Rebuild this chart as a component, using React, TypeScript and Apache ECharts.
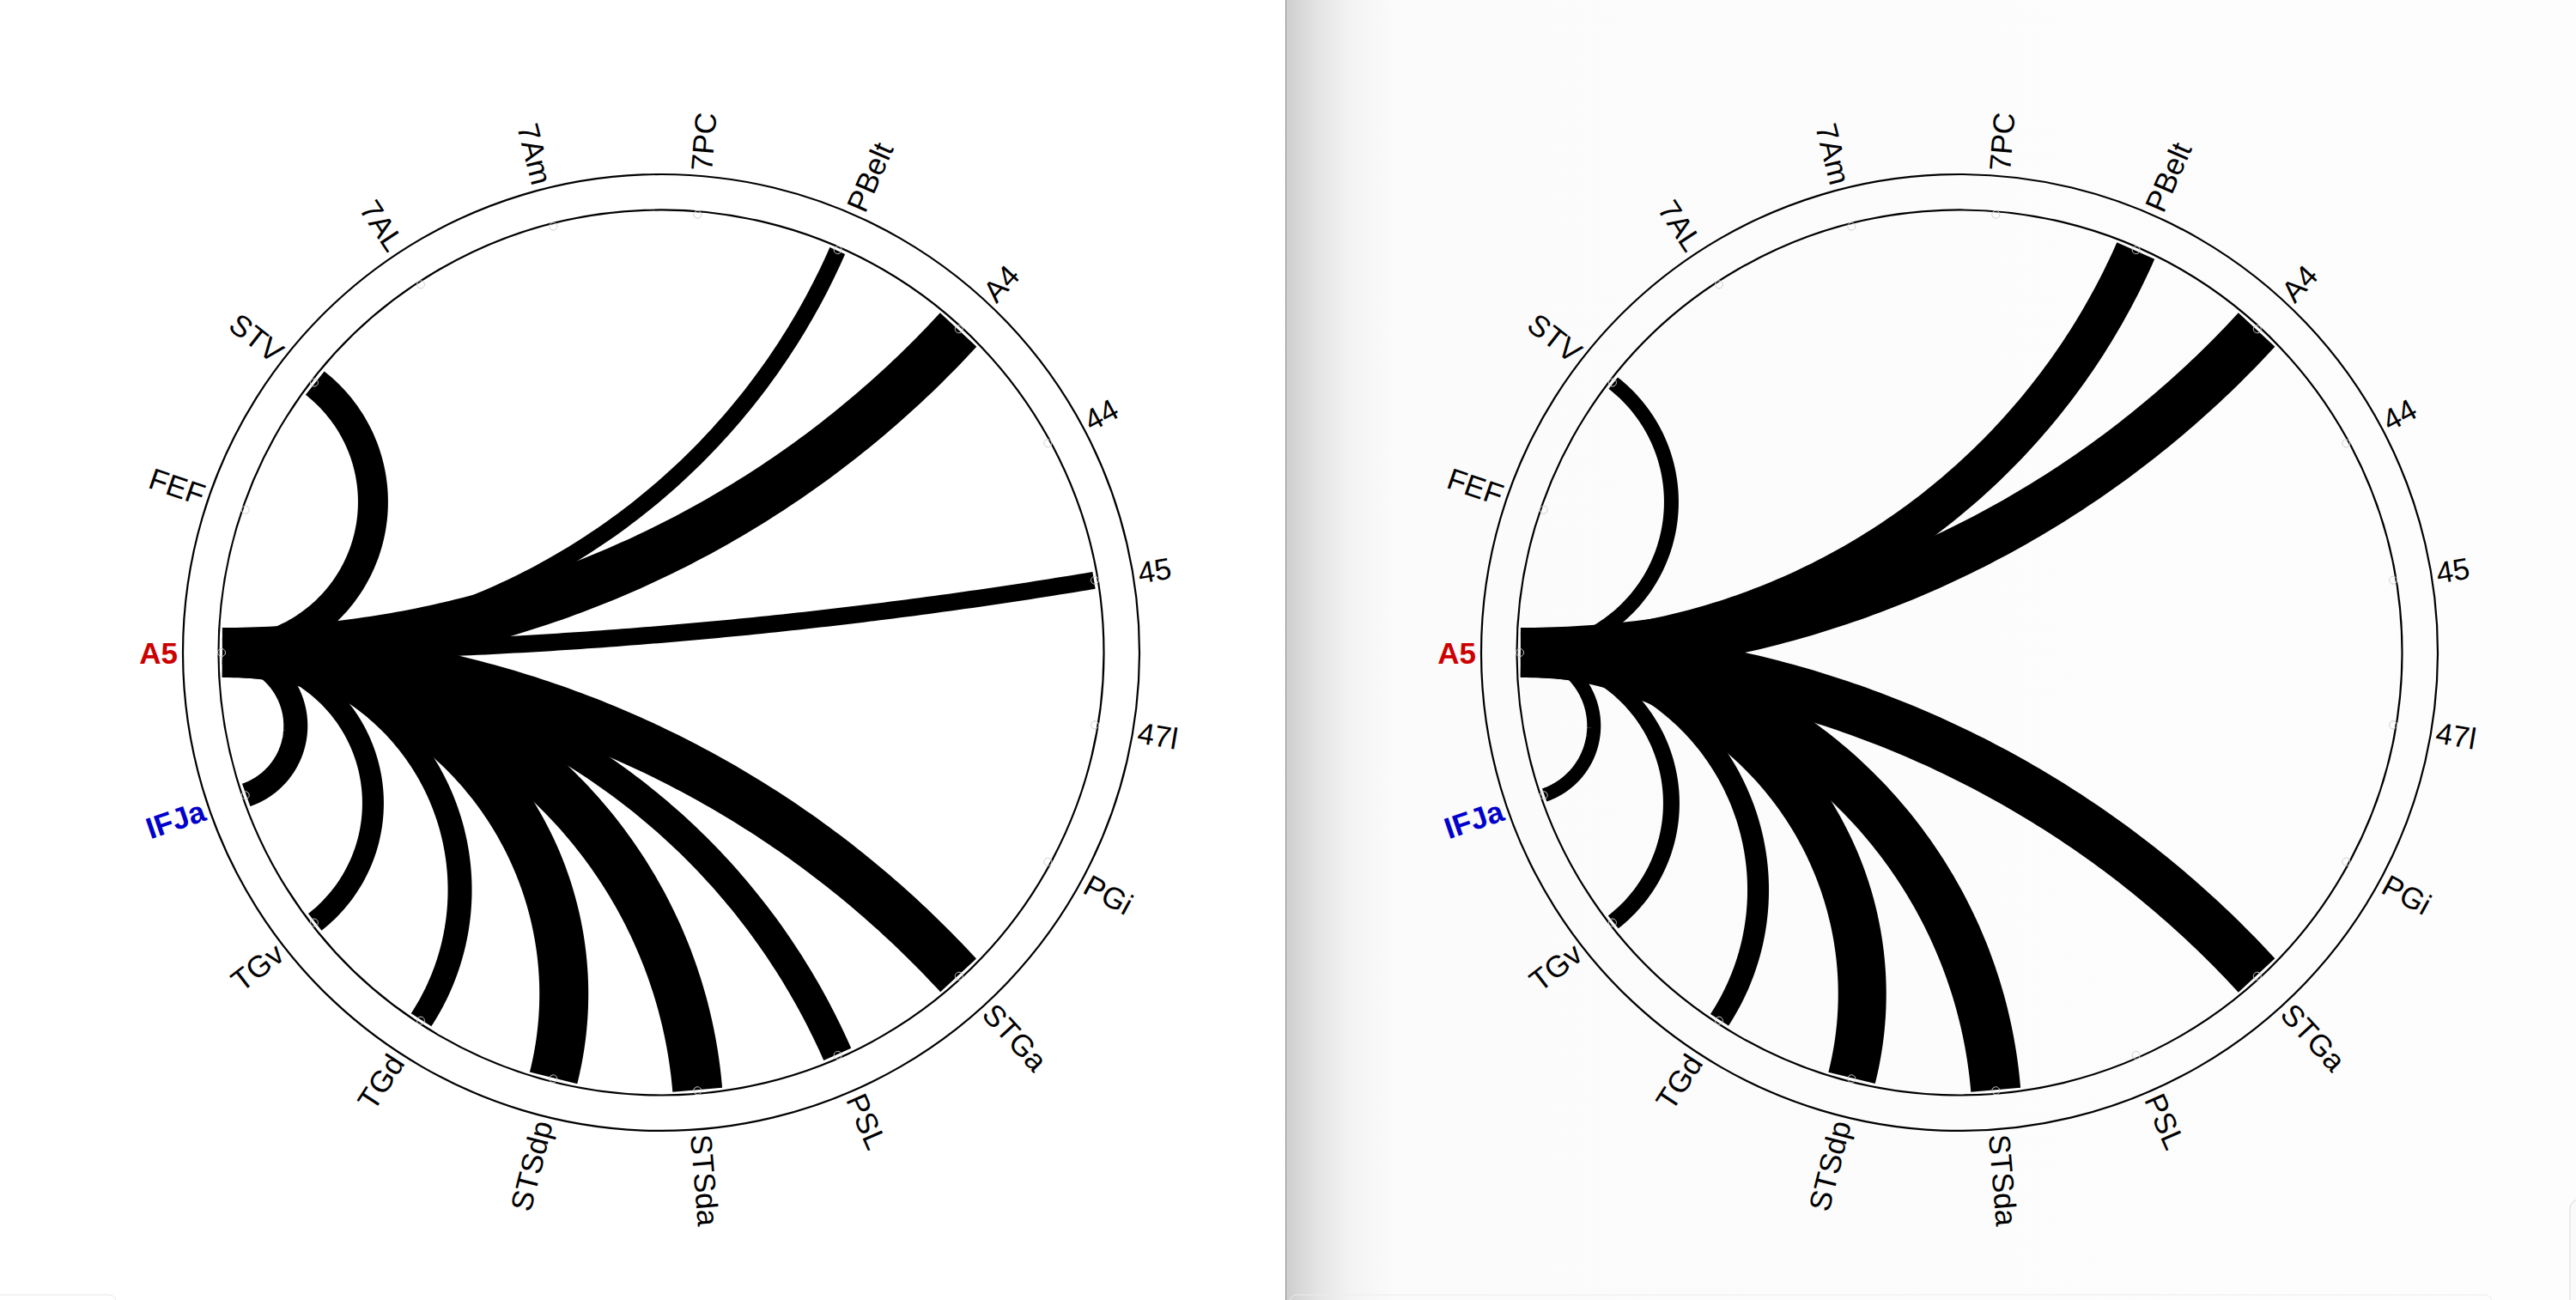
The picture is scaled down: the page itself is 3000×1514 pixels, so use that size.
import React, { useEffect, useRef } from "react";
import * as echarts from "echarts";

// ---- Data ----
const nodes = [
  "A5", "FEF", "STV", "7AL", "7Am", "7PC", "PBelt", "A4", "44", "45",
  "47l", "PGi", "STGa", "PSL", "STSda", "STSdp", "TGd", "TGv", "IFJa",
];
const sourceNode = "A5";
const redNodes = ["A5"];
const blueNodes = ["IFJa"];

const leftTargets = ["STV", "PBelt", "A4", "45", "IFJa", "TGv", "TGd", "STSdp", "STSda", "PSL", "STGa"];
const leftWeights = [0.35, 0.195, 0.58, 0.2, 0.28, 0.25, 0.28, 0.57, 0.58, 0.35, 0.57];

const rightTargets = ["STV", "PBelt", "A4", "IFJa", "TGv", "TGd", "STSdp", "STSda", "STGa"];
const rightWeights = [0.17, 0.48, 0.58, 0.16, 0.19, 0.25, 0.56, 0.58, 0.58];

// ring radii in radius-axis units (1 = link end)
const ringRadii = [1.0088, 1.09];
const markerRadius = 1.002;
const labelRadius = 1.1018;

const WIDTH_SCALE = 100;
const FONT = "'Liberation Sans', Arial, Helvetica, sans-serif";

function norm(a: number) {
  while (a > Math.PI) a -= 2 * Math.PI;
  while (a <= -Math.PI) a += 2 * Math.PI;
  return a;
}

function orthoArc(C: number[], P0: number[], P3: number[], n: number) {
  const R = Math.hypot(P0[0] - C[0], P0[1] - C[1]);
  const a0 = Math.atan2(P0[1] - C[1], P0[0] - C[0]);
  const a3 = Math.atan2(P3[1] - C[1], P3[0] - C[0]);
  const d = norm(a3 - a0);
  const half = Math.abs(d) / 2;
  const pts: number[][] = [];
  if (Math.abs(Math.PI / 2 - half) < 1e-4) {
    for (let i = 0; i <= n; i++) {
      const t = i / n;
      pts.push([P0[0] + (P3[0] - P0[0]) * t, P0[1] + (P3[1] - P0[1]) * t]);
    }
    return pts;
  }
  const mid = a0 + d / 2;
  const dist = R / Math.cos(half);
  const rho = R * Math.tan(half);
  const O = [C[0] + dist * Math.cos(mid), C[1] + dist * Math.sin(mid)];
  const b0 = Math.atan2(P0[1] - O[1], P0[0] - O[0]);
  const b3 = Math.atan2(P3[1] - O[1], P3[0] - O[0]);
  const e = norm(b3 - b0);
  for (let i = 0; i <= n; i++) {
    const b = b0 + (e * i) / n;
    pts.push([O[0] + rho * Math.cos(b), O[1] + rho * Math.sin(b)]);
  }
  return pts;
}

function panelSeries(polarIndex: number, targets: string[], weights: number[]) {
  const src = nodes.indexOf(sourceNode);
  const linkData = targets.map((t, i) => [1, nodes.indexOf(t), weights[i]]);
  return [
    {
      type: "custom",
      coordinateSystem: "polar",
      polarIndex,
      silent: true,
      z: 1,
      data: ringRadii.map((r) => [r, 0]),
      renderItem: (params: any, api: any) => {
        const C = api.coord([0, 0]);
        const P = api.coord([api.value(0), 0]);
        const r = Math.hypot(P[0] - C[0], P[1] - C[1]);
        return {
          type: "circle",
          shape: { cx: C[0], cy: C[1], r },
          style: { fill: "none", stroke: "#000", lineWidth: 2.2 },
        };
      },
    },
    {
      type: "custom",
      coordinateSystem: "polar",
      polarIndex,
      silent: true,
      z: 2,
      data: linkData,
      renderItem: (params: any, api: any) => {
        const C = api.coord([0, 0]);
        const P0 = api.coord([api.value(0), src]);
        const P3 = api.coord([api.value(0), api.value(1)]);
        const pts = orthoArc(C, P0, P3, 120);
        return {
          type: "polyline",
          shape: { points: pts },
          style: {
            fill: "none",
            stroke: "#000",
            lineWidth: api.value(2) * WIDTH_SCALE,
            lineCap: "butt",
            lineJoin: "round",
          },
        };
      },
    },
    {
      type: "custom",
      coordinateSystem: "polar",
      polarIndex,
      silent: true,
      z: 3,
      data: nodes.map((n, i) => [markerRadius, i]),
      renderItem: (params: any, api: any) => {
        const P = api.coord([api.value(0), api.value(1)]);
        return {
          type: "circle",
          shape: { cx: P[0], cy: P[1], r: 4.5 },
          style: { fill: "none", stroke: "#cfcfcf", lineWidth: 1 },
        };
      },
    },
    {
      type: "custom",
      coordinateSystem: "polar",
      polarIndex,
      silent: true,
      z: 4,
      data: nodes.map((n, i) => [labelRadius, i]),
      renderItem: (params: any, api: any) => {
        const idx = params.dataIndex;
        const name = nodes[idx];
        const C = api.coord([0, 0]);
        const P = api.coord([api.value(0), api.value(1)]);
        const theta = Math.atan2(-(P[1] - C[1]), P[0] - C[0]);
        const right = Math.cos(theta) > 1e-6;
        const isRed = redNodes.indexOf(name) >= 0;
        const isBlue = blueNodes.indexOf(name) >= 0;
        return {
          type: "text",
          x: P[0],
          y: P[1],
          rotation: right ? theta : theta - Math.PI,
          style: {
            text: name,
            fill: isRed ? "#cc0000" : isBlue ? "#0000cc" : "#000",
            fontSize: 35,
            fontFamily: FONT,
            fontWeight: isRed || isBlue ? "bold" : "normal",
            align: right ? "left" : "right",
            verticalAlign: "middle",
          },
        };
      },
    },
  ];
}

export default function App() {
  const ref = useRef<HTMLDivElement>(null);
  useEffect(() => {
    if (!ref.current) return;
    const chart = echarts.init(ref.current, null, { renderer: "svg" });
    const axisHidden = {
      show: false,
      axisLine: { show: false },
      axisTick: { show: false },
      axisLabel: { show: false },
      splitLine: { show: false },
      splitArea: { show: false },
    };
    chart.setOption({
      animation: false,
      backgroundColor: "#ffffff",
      polar: [
        { center: [770, 760], radius: 511 },
        { center: [2282, 760], radius: 511 },
      ],
      angleAxis: [0, 1].map((p) => ({
        polarIndex: p,
        type: "value",
        min: 0,
        max: nodes.length,
        startAngle: 180,
        clockwise: true,
        ...axisHidden,
      })),
      radiusAxis: [0, 1].map((p) => ({
        polarIndex: p,
        type: "value",
        min: 0,
        max: 1,
        ...axisHidden,
      })),
      graphic: [
        {
          type: "rect",
          silent: true,
          z: -10,
          shape: { x: 1497, y: 0, width: 1503, height: 1514 },
          style: {
            fill: new echarts.graphic.LinearGradient(0, 0, 1, 0, [
              { offset: 0, color: "#cdcdcd" },
              { offset: 0.025, color: "#e4e4e4" },
              { offset: 0.05, color: "#f3f3f3" },
              { offset: 0.085, color: "#fbfbfb" },
              { offset: 1, color: "#fdfdfd" },
            ]),
          },
        },
        {
          type: "line",
          silent: true,
          z: -9,
          shape: { x1: 1497.5, y1: 0, x2: 1497.5, y2: 1514 },
          style: { stroke: "#8a8a8a", lineWidth: 1 },
        },
        {
          type: "rect",
          silent: true,
          z: -9,
          shape: { x: -20, y: 1508, width: 155, height: 40, r: 8 },
          style: { fill: "none", stroke: "#e6e6e6", lineWidth: 1 },
        },
        {
          type: "rect",
          silent: true,
          z: -9,
          shape: { x: 1502, y: 1508, width: 1400, height: 40, r: 8 },
          style: { fill: "none", stroke: "#ececec", lineWidth: 1 },
        },
        {
          type: "rect",
          silent: true,
          z: -9,
          shape: { x: 2993, y: 1397, width: 30, height: 200, r: 10 },
          style: { fill: "#fafafa", stroke: "#d9d9d9", lineWidth: 1 },
        },
      ],
      series: [
        ...panelSeries(0, leftTargets, leftWeights),
        ...panelSeries(1, rightTargets, rightWeights),
      ],
    });
    return () => chart.dispose();
  }, []);
  return (
    <div
      ref={ref}
      style={{ position: "absolute", left: 0, top: 0, width: 3000, height: 1514 }}
    />
  );
}
